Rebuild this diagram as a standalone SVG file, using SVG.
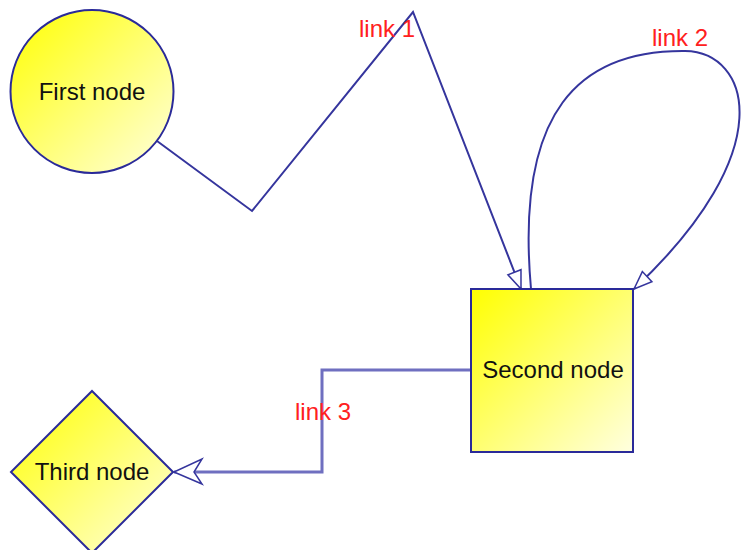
<svg xmlns="http://www.w3.org/2000/svg" width="746" height="550" viewBox="0 0 746 550">
<style>
.node{stroke:#2a2a99;stroke-width:2;fill:url(#yg)}
.nlabel{font-family:"Liberation Sans",Arial,sans-serif;font-size:24px;fill:#111;text-anchor:middle}
.elabel{font-family:"Liberation Sans",Arial,sans-serif;font-size:24px;fill:#ff2020;text-anchor:middle}
.edge{fill:none;stroke:#35359d;stroke-width:2}
.edge3{fill:none;stroke:#6f6fc0;stroke-width:3}
</style>
<defs>
<linearGradient id="yg" x1="0" y1="0" x2="1" y2="1">
<stop offset="0" stop-color="#ffff00"/>
<stop offset="1" stop-color="#ffffe0"/>
</linearGradient>
<marker id="tri" viewBox="-22 -11 26 22" refX="0" refY="0" markerWidth="26" markerHeight="22" markerUnits="userSpaceOnUse" orient="auto" overflow="visible">
<path d="M0,0 L-18,-7 L-18,7 Z" fill="#fff" stroke="#35359d" stroke-width="1.5"/>
</marker>
<marker id="vee" viewBox="-32 -16 36 32" refX="0" refY="0" markerWidth="36" markerHeight="32" markerUnits="userSpaceOnUse" orient="auto" overflow="visible">
<path d="M0,0 L-28,-12 L-20,0 L-28,13 Z" fill="#fff" stroke="#35359d" stroke-width="1.5"/>
</marker>
</defs>
<g id="edges">
<g id="link1">
<polyline class="edge" points="157,141 252,211 413,12 521,289" marker-end="url(#tri)"/>
<text class="elabel" x="387" y="37">link 1</text>
</g>
<g id="link2">
<path class="edge" d="M531,289 C515,110 580,50 685,51 C750,52 782,150 634,289" marker-end="url(#tri)"/>
<text class="elabel" x="680" y="46">link 2</text>
</g>
<g id="link3">
<path class="edge3" d="M471,370 H322 V472 H174" marker-end="url(#vee)"/>
<text class="elabel" x="323" y="420">link 3</text>
</g>
</g>
<g id="first-node">
<circle class="node" cx="92" cy="91.5" r="81.5"/>
<text class="nlabel" x="92" y="100">First node</text>
</g>
<g id="second-node">
<rect class="node" x="471" y="289" width="162" height="163"/>
<text class="nlabel" x="553" y="378">Second node</text>
</g>
<g id="third-node">
<polygon class="node" points="92,391 173,472 92,553 11,472"/>
<text class="nlabel" x="92" y="480">Third node</text>
</g>
</svg>
